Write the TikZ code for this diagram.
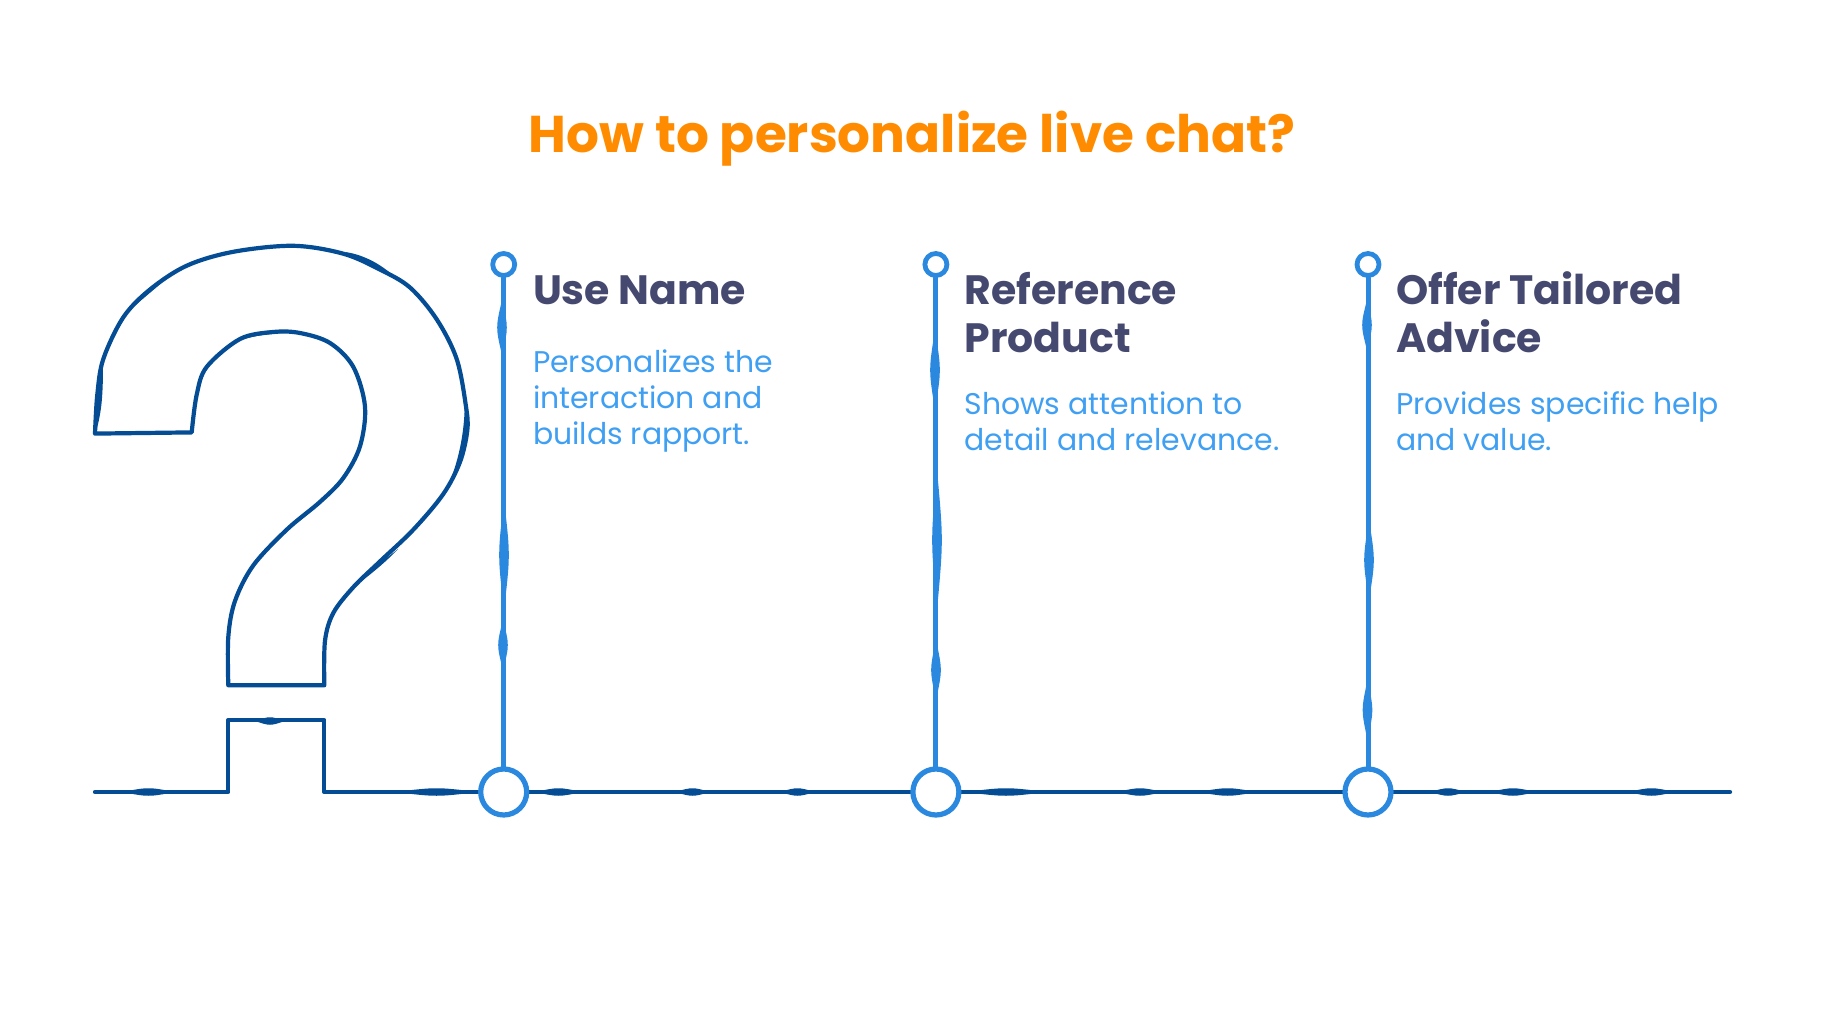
\documentclass[tikz,border=0pt]{standalone}
\usepackage{fontspec}
\setmainfont{Poppins}
\definecolor{dkblue}{HTML}{044C94}
\definecolor{ltblue}{HTML}{2A88DE}
\definecolor{txblue}{HTML}{3F9FF2}
\definecolor{headc}{HTML}{45496F}
\definecolor{titlec}{HTML}{FF8C00}
\tikzset{
  qline/.style={draw=dkblue,line width=4.2pt,line join=round,line cap=round},
  stemline/.style={draw=ltblue,line width=5pt,line cap=round},
  bigdot/.style={circle,draw=ltblue,line width=5.2pt,fill=white,minimum size=46pt,inner sep=0pt},
  smalldot/.style={circle,draw=ltblue,line width=4.8pt,fill=white,minimum size=22pt,inner sep=0pt},
  titletext/.style={text=titlec,anchor=base,font=\fontsize{51.7}{52}\selectfont\bfseries,inner sep=0pt},
  headtext/.style={text=headc,anchor=base west,font=\fontsize{41}{48}\selectfont\bfseries,inner sep=0pt,align=left},
  bodytext/.style={text=txblue,anchor=base west,font=\fontsize{29.9}{36}\selectfont,inner sep=0pt,align=left},
  dkblob/.style={fill=dkblue,draw=none},
  ltblob/.style={fill=ltblue,draw=none},
}
\newcommand{\hlens}[2]{\fill[dkblob] (#1,792) .. controls ({(#1+#2)/2},787) .. (#2,792) .. controls ({(#1+#2)/2},797) .. cycle;}
\newcommand{\vlens}[3]{\fill[ltblob] (#1,#2) .. controls ({#1-6.4},{(#2+#3)/2}) .. (#1,#3) .. controls ({#1+6.4},{(#2+#3)/2}) .. cycle;}
\begin{document}
\begin{tikzpicture}[x=1pt,y=-1pt]
\useasboundingbox (0,0) rectangle (1824,1032);
\fill[white] (0,0) rectangle (1824,1032);
\node[titletext] (title) at (912,153) {How to personalize live chat?};
% question mark outline
\draw[qline] plot[smooth,tension=0.55] coordinates {(95,433.6)(97.3,394.7)(103.3,359)(123.3,317.3)(150,289.5)(186.7,265.7)(233.3,251.8)(293.3,245.8)(343.3,253.7)(380,269.6)(410,287.5)(436.7,319.3)(456.7,359)(466,406.6)(467.3,430.4)(460,462)(443.3,494)(413.3,529.7)(380,561.4)(353.3,587.2)(333.3,613)(325,640.8)(324.3,685.3)}
 -- (228.3,685.3)
 plot[smooth,tension=0.55] coordinates {(228.3,685.3)(228.3,636.9)(235,601)(253.3,565.4)(286.7,529.7)(320,501.9)(343.3,478)(360,446.3)(365,406.6)(353.3,366.9)(330,343)(300,333)(273.3,332)(240,339)(206.7,366.9)(196.7,394.7)(191.7,432.4)}
 -- (95,433.6);
% thick spots
\fill[dkblob] (96,432) .. controls (93,410) and (96,395) .. (103,362) .. controls (103,395) and (102,410) .. cycle;
\fill[dkblob] (345,252) .. controls (360,254) and (380,262) .. (398,280) .. controls (385,273) and (365,262) .. cycle;
\fill[dkblob] (465,395) .. controls (472,420) and (470,455) .. (445,493) .. controls (460,460) and (465,430) .. cycle;
\fill[dkblob] (398,549) .. controls (385,560) and (365,572) .. (348,592) .. controls (365,578) and (380,568) .. cycle;
\fill[dkblob] (238,341) .. controls (255,330) and (270,329) .. (295,332) .. controls (270,334) and (255,335) .. cycle;
\fill[dkblob] (125,315) .. controls (135,300) and (150,286) .. (175,270) .. controls (155,290) and (140,300) .. cycle;
% nodes on the timeline
\coordinate (lineL) at (95,792);
\coordinate (lineR) at (1730,792);
\draw[qline] (lineL) -- (228.3,792) -- (228.3,720) -- (324.3,720) -- (324.3,792) -- (504,792);
\draw[qline] (504,792) -- (lineR);
\hlens{122}{175}\hlens{395}{478}\hlens{535}{582}\hlens{675}{710}\hlens{780}{815}\hlens{965}{1047}\hlens{1117}{1163}\hlens{1198}{1257}\hlens{1430}{1466}\hlens{1490}{1536}\hlens{1628}{1675}
\fill[dkblob] (255,721) .. controls (270,716) .. (285,721) .. controls (270,726) .. cycle;
\foreach \n/\x in {1/503.7,2/935.9,3/1368} {
  \node[smalldot] (s\n) at (\x,264.5) {};
  \node[bigdot] (b\n) at (\x,792) {};
  \draw[stemline] (s\n) -- (b\n);
}
\vlens{502}{300}{355}\vlens{504}{500}{610}\vlens{503}{620}{670}
\vlens{935}{330}{410}\vlens{937}{470}{610}\vlens{936}{640}{700}
\vlens{1367}{300}{350}\vlens{1369}{520}{600}\vlens{1367.5}{680}{740}
\node[headtext] (h1) at (532.8,304.8) {Use Name};
\node[headtext] (h2) at (964.4,352.5) {Reference\\Product};
\node[headtext] (h3) at (1396,352.5) {Offer Tailored\\Advice};
\node[bodytext] (t1) at (532.8,444.4) {Personalizes the\\interaction and\\builds rapport.};
\node[bodytext] (t2) at (964.4,450) {Shows attention to\\detail and relevance.};
\node[bodytext] (t3) at (1396,450) {Provides specific help\\and value.};
\end{tikzpicture}
\end{document}
